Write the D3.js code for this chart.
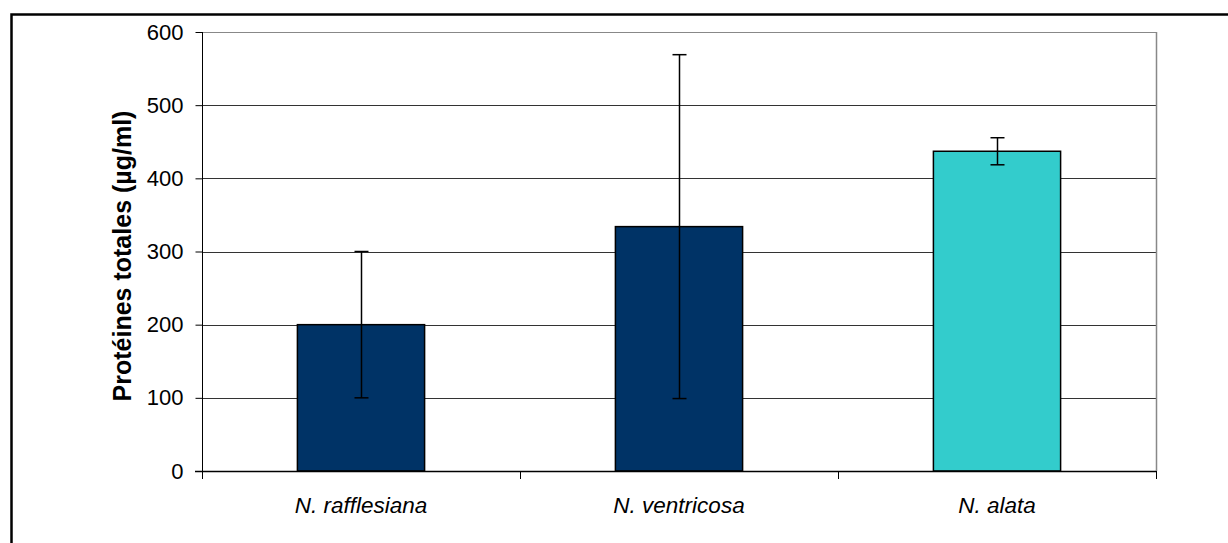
<!DOCTYPE html>
<html><head><meta charset="utf-8">
<script src="https://cdn.jsdelivr.net/npm/d3@7"></script>
<style>body{margin:0;background:#fff;}svg{display:block;font-family:"Liberation Sans",Arial,sans-serif;}</style>
</head><body>
<svg id="c" width="1228" height="543"></svg>
<script>
const categories = ["N. rafflesiana", "N. ventricosa", "N. alata"];
const means = [200, 334, 437];
const errors = [100, 235, 18.5];
const barColors = ["#003366", "#003366", "#33CCCC"];
const yTicks = [0, 100, 200, 300, 400, 500, 600];
const yLabel = "Protéines totales (µg/ml)";

const svg = d3.select("#c");
const L = 202, R = 1156, T = 32, B = 471;

// outer frame
svg.append("path").attr("d", "M11.5,543 V14.5 H1228").attr("fill","none").attr("stroke","#000").attr("stroke-width",2.5);

const x = d3.scaleBand().domain(categories).range([L, R]).paddingInner(0).paddingOuter(0);
const y = d3.scaleLinear().domain([0, 600]).range([B, T]);

// gridlines
svg.append("g").selectAll("line").data(yTicks.filter(d=>d>0)).join("line")
  .attr("x1", L).attr("x2", R).attr("y1", d=>Math.round(y(d))+0.5).attr("y2", d=>Math.round(y(d))+0.5)
  .attr("stroke", d=>d===600?"#888":"#333").attr("stroke-width",1);
// right border
svg.append("line").attr("x1",R+0.5).attr("x2",R+0.5).attr("y1",T).attr("y2",B).attr("stroke","#888").attr("stroke-width",1.5);

// bars
const bw = x.bandwidth()*0.4;
svg.append("g").selectAll("rect").data(categories).join("rect")
  .attr("x", d=>x(d)+x.bandwidth()/2-bw/2)
  .attr("y", (d,i)=>y(means[i]))
  .attr("width", bw)
  .attr("height", (d,i)=>y(0)-y(means[i]))
  .attr("fill", (d,i)=>barColors[i])
  .attr("stroke", "#000").attr("stroke-width", 1.5);

// error bars
const eg = svg.append("g").attr("stroke","#000").attr("stroke-width",1.5);
categories.forEach((c,i)=>{
  const cx = Math.round(x(c)+x.bandwidth()/2)+0.5;
  const lo = y(means[i]-errors[i]), hi = y(means[i]+errors[i]);
  eg.append("line").attr("x1",cx).attr("x2",cx).attr("y1",lo).attr("y2",hi);
  eg.append("line").attr("x1",cx-7).attr("x2",cx+7).attr("y1",lo).attr("y2",lo);
  eg.append("line").attr("x1",cx-7).attr("x2",cx+7).attr("y1",hi).attr("y2",hi);
});

// y axis
const ya = svg.append("g").attr("transform",`translate(${L+0.5},0)`)
  .call(d3.axisLeft(y).tickValues(yTicks).tickSize(7).tickPadding(12));
ya.select(".domain").attr("stroke","#000").attr("d",`M0,${T}V${B+8}`);
ya.selectAll(".tick line").attr("stroke","#000");
ya.selectAll("text").attr("font-size","22px").attr("fill","#000").attr("font-family","Liberation Sans, Arial, sans-serif");

// x axis
const xa = svg.append("g").attr("transform",`translate(0,${B+0.5})`)
  .call(d3.axisBottom(x).tickSize(0).tickPadding(26));
xa.select(".domain").attr("stroke","#000").attr("stroke-width",1.5).attr("d",`M${L-7},0H${R}`);
xa.selectAll("text").attr("font-size","22.5px").attr("font-style","italic").attr("fill","#000").attr("font-family","Liberation Sans, Arial, sans-serif");
// boundary ticks
const bounds = categories.map(c=>x(c)).concat([x(categories[categories.length-1])+x.bandwidth()]);
svg.append("g").selectAll("line").data(bounds).join("line")
  .attr("x1",d=>Math.round(d)+0.5).attr("x2",d=>Math.round(d)+0.5).attr("y1",B).attr("y2",B+8)
  .attr("stroke","#000");

// y label
svg.append("text").attr("transform",`translate(131,256) rotate(-90)`)
  .attr("text-anchor","middle").attr("font-size","25px").attr("font-weight","bold").text(yLabel);
</script>
</body></html>
